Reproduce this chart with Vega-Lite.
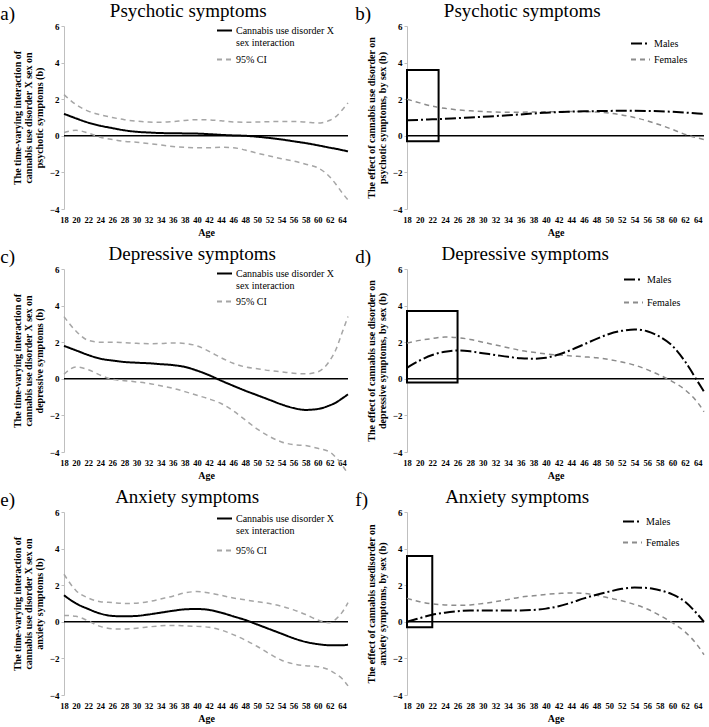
{
  "$schema": "https://vega.github.io/schema/vega-lite/v6.json",
  "padding": {"left": 0, "top": 2, "right": 2, "bottom": 0},
  "background": "white",
  "datasets": {
    "a": [
      {"age":18,"e":1.2,"u":2.25,"l":0.18},{"age":20,"e":0.95,"u":1.7,"l":0.3},{"age":22,"e":0.72,"u":1.35,"l":0.15},{"age":24,"e":0.55,"u":1.15,"l":-0.08},{"age":26,"e":0.42,"u":1.0,"l":-0.2},{"age":28,"e":0.3,"u":0.88,"l":-0.3},{"age":30,"e":0.22,"u":0.8,"l":-0.35},{"age":32,"e":0.18,"u":0.75,"l":-0.42},{"age":34,"e":0.15,"u":0.74,"l":-0.5},{"age":36,"e":0.14,"u":0.78,"l":-0.58},{"age":38,"e":0.13,"u":0.84,"l":-0.63},{"age":40,"e":0.12,"u":0.88,"l":-0.65},{"age":42,"e":0.09,"u":0.87,"l":-0.65},{"age":44,"e":0.05,"u":0.82,"l":-0.63},{"age":46,"e":0.02,"u":0.76,"l":-0.65},{"age":48,"e":0.0,"u":0.74,"l":-0.78},{"age":50,"e":-0.05,"u":0.75,"l":-0.95},{"age":52,"e":-0.12,"u":0.77,"l":-1.1},{"age":54,"e":-0.2,"u":0.78,"l":-1.25},{"age":56,"e":-0.3,"u":0.78,"l":-1.38},{"age":58,"e":-0.4,"u":0.75,"l":-1.55},{"age":60,"e":-0.52,"u":0.7,"l":-1.75},{"age":62,"e":-0.65,"u":0.85,"l":-2.25},{"age":63,"e":-0.71,"u":1.05,"l":-2.65},{"age":64,"e":-0.78,"u":1.4,"l":-3.1},{"age":65,"e":-0.85,"u":1.8,"l":-3.5}
    ],
    "c": [
      {"age":18,"e":1.8,"u":3.4,"l":0.25},{"age":20,"e":1.55,"u":2.6,"l":0.65},{"age":22,"e":1.3,"u":2.1,"l":0.5},{"age":24,"e":1.1,"u":2.0,"l":0.2},{"age":26,"e":1.0,"u":2.0,"l":-0.03},{"age":28,"e":0.92,"u":1.97,"l":-0.1},{"age":30,"e":0.88,"u":1.94,"l":-0.17},{"age":32,"e":0.85,"u":1.92,"l":-0.25},{"age":34,"e":0.8,"u":1.93,"l":-0.38},{"age":36,"e":0.75,"u":1.96,"l":-0.52},{"age":38,"e":0.65,"u":1.93,"l":-0.7},{"age":40,"e":0.45,"u":1.8,"l":-0.9},{"age":42,"e":0.2,"u":1.5,"l":-1.1},{"age":44,"e":-0.1,"u":1.15,"l":-1.35},{"age":46,"e":-0.38,"u":0.85,"l":-1.75},{"age":48,"e":-0.65,"u":0.65,"l":-2.25},{"age":50,"e":-0.9,"u":0.55,"l":-2.75},{"age":52,"e":-1.15,"u":0.45,"l":-3.15},{"age":54,"e":-1.4,"u":0.38,"l":-3.45},{"age":56,"e":-1.6,"u":0.3,"l":-3.6},{"age":58,"e":-1.7,"u":0.27,"l":-3.65},{"age":60,"e":-1.65,"u":0.38,"l":-3.8},{"age":62,"e":-1.45,"u":1.0,"l":-4.0},{"age":63,"e":-1.3,"u":1.6,"l":-4.3},{"age":64,"e":-1.08,"u":2.5,"l":-4.7},{"age":65,"e":-0.85,"u":3.4,"l":-5.2}
    ],
    "e": [
      {"age":18,"e":1.45,"u":2.6,"l":0.35},{"age":20,"e":1.0,"u":1.7,"l":0.3},{"age":22,"e":0.7,"u":1.3,"l":0.05},{"age":24,"e":0.45,"u":1.1,"l":-0.25},{"age":26,"e":0.32,"u":1.05,"l":-0.38},{"age":28,"e":0.3,"u":1.0,"l":-0.4},{"age":30,"e":0.32,"u":1.02,"l":-0.35},{"age":32,"e":0.4,"u":1.1,"l":-0.28},{"age":34,"e":0.5,"u":1.25,"l":-0.22},{"age":36,"e":0.6,"u":1.4,"l":-0.2},{"age":38,"e":0.68,"u":1.58,"l":-0.22},{"age":40,"e":0.7,"u":1.65,"l":-0.25},{"age":42,"e":0.65,"u":1.58,"l":-0.3},{"age":44,"e":0.5,"u":1.45,"l":-0.45},{"age":46,"e":0.3,"u":1.3,"l":-0.7},{"age":48,"e":0.1,"u":1.2,"l":-1.0},{"age":50,"e":-0.15,"u":1.1,"l":-1.35},{"age":52,"e":-0.4,"u":1.0,"l":-1.75},{"age":54,"e":-0.65,"u":0.85,"l":-2.1},{"age":56,"e":-0.9,"u":0.65,"l":-2.3},{"age":58,"e":-1.1,"u":0.4,"l":-2.4},{"age":60,"e":-1.22,"u":0.1,"l":-2.45},{"age":62,"e":-1.28,"u":-0.05,"l":-2.65},{"age":63,"e":-1.28,"u":0.15,"l":-2.85},{"age":64,"e":-1.28,"u":0.5,"l":-3.1},{"age":65,"e":-1.25,"u":1.05,"l":-3.5}
    ],
    "b": [
      {"age":18,"m":0.85,"f":2.0},{"age":20,"m":0.87,"f":1.8},{"age":22,"m":0.9,"f":1.62},{"age":24,"m":0.93,"f":1.5},{"age":26,"m":0.97,"f":1.42},{"age":28,"m":1.0,"f":1.37},{"age":30,"m":1.04,"f":1.33},{"age":32,"m":1.08,"f":1.3},{"age":34,"m":1.12,"f":1.29},{"age":36,"m":1.17,"f":1.29},{"age":38,"m":1.22,"f":1.3},{"age":40,"m":1.26,"f":1.31},{"age":42,"m":1.3,"f":1.32},{"age":44,"m":1.32,"f":1.33},{"age":46,"m":1.34,"f":1.33},{"age":48,"m":1.35,"f":1.3},{"age":50,"m":1.36,"f":1.24},{"age":52,"m":1.37,"f":1.14},{"age":54,"m":1.37,"f":1.0},{"age":56,"m":1.36,"f":0.82},{"age":58,"m":1.34,"f":0.6},{"age":60,"m":1.31,"f":0.35},{"age":62,"m":1.27,"f":0.08},{"age":64,"m":1.22,"f":-0.12},{"age":65,"m":1.19,"f":-0.2}
    ],
    "d": [
      {"age":18,"m":0.6,"f":1.95},{"age":20,"m":1.0,"f":2.1},{"age":22,"m":1.3,"f":2.2},{"age":24,"m":1.48,"f":2.28},{"age":26,"m":1.55,"f":2.25},{"age":28,"m":1.5,"f":2.15},{"age":30,"m":1.4,"f":2.0},{"age":32,"m":1.3,"f":1.85},{"age":34,"m":1.2,"f":1.7},{"age":36,"m":1.12,"f":1.55},{"age":38,"m":1.1,"f":1.45},{"age":40,"m":1.15,"f":1.36},{"age":42,"m":1.33,"f":1.3},{"age":44,"m":1.58,"f":1.25},{"age":46,"m":1.88,"f":1.2},{"age":48,"m":2.18,"f":1.15},{"age":50,"m":2.45,"f":1.05},{"age":52,"m":2.62,"f":0.92},{"age":54,"m":2.7,"f":0.75},{"age":56,"m":2.6,"f":0.5},{"age":58,"m":2.3,"f":0.2},{"age":60,"m":1.8,"f":-0.15},{"age":62,"m":0.95,"f":-0.6},{"age":64,"m":-0.15,"f":-1.3},{"age":65,"m":-0.7,"f":-1.8}
    ],
    "f": [
      {"age":18,"m":0.0,"f":1.28},{"age":20,"m":0.2,"f":1.1},{"age":22,"m":0.38,"f":0.98},{"age":24,"m":0.5,"f":0.92},{"age":26,"m":0.58,"f":0.9},{"age":28,"m":0.62,"f":0.92},{"age":30,"m":0.62,"f":1.0},{"age":32,"m":0.62,"f":1.1},{"age":34,"m":0.62,"f":1.22},{"age":36,"m":0.62,"f":1.35},{"age":38,"m":0.65,"f":1.42},{"age":40,"m":0.72,"f":1.5},{"age":42,"m":0.85,"f":1.55},{"age":44,"m":1.05,"f":1.58},{"age":46,"m":1.28,"f":1.55},{"age":48,"m":1.48,"f":1.45},{"age":50,"m":1.65,"f":1.3},{"age":52,"m":1.8,"f":1.15},{"age":54,"m":1.87,"f":0.95},{"age":56,"m":1.85,"f":0.7},{"age":58,"m":1.72,"f":0.35},{"age":60,"m":1.5,"f":-0.05},{"age":62,"m":1.1,"f":-0.55},{"age":64,"m":0.4,"f":-1.3},{"age":65,"m":0.0,"f":-1.8}
    ],
    "boxes": [
      {"panel":"b","age":18,"age2":23,"y":-0.3,"y2":3.6},
      {"panel":"d","age":18,"age2":26,"y":-0.2,"y2":3.7},
      {"panel":"f","age":18,"age2":22,"y":-0.3,"y2":3.6}
    ]
  },
  "config": {
    "view": {"stroke": null},
    "font": "Liberation Serif, Times New Roman, DejaVu Serif, serif",
    "title": {"font": "Liberation Serif, Times New Roman, DejaVu Serif, serif", "fontSize": 19, "fontWeight": "normal", "color": "black", "anchor": "middle", "frame": "bounds", "offset": 1},
    "axis": {"labelFont": "Liberation Serif, Times New Roman, DejaVu Serif, serif", "labelFontWeight": "bold", "labelFontSize": 9, "labelColor": "black", "titleFont": "Liberation Serif, Times New Roman, DejaVu Serif, serif", "titleFontWeight": "bold", "titleFontSize": 10, "titleLineHeight": 11, "titleColor": "black", "grid": false, "domainColor": "#bfbfbf", "tickColor": "#bfbfbf", "labelOverlap": false, "labelFlush": false, "tickCount": 100, "format": "d"},
    "legend": {"labelFont": "Liberation Serif, Times New Roman, DejaVu Serif, serif", "labelFontSize": 10, "labelColor": "black", "symbolType": "stroke", "symbolSize": 225, "symbolStrokeWidth": 2, "labelOffset": 3, "title": null, "padding": 0, "orient": "none"},
    "line": {"interpolate": "monotone", "clip": true}
  },
  "resolve": {"scale": {"color": "independent", "strokeDash": "independent"}},
  "spacing": 7,
  "vconcat": [
    {
      "resolve": {"scale": {"color": "independent", "strokeDash": "independent"}},
      "spacing": 3,
      "hconcat": [
        {
          "title": {"text": "a)", "anchor": "start", "dy": 23, "dx": -12},
          "resolve": {"scale": {"color": "independent", "strokeDash": "independent"}},
          "vconcat": [{
            "title": {"text": "Psychotic symptoms", "dx": 6},
            "width": 284, "height": 183,
            "layer": [
              {"data": {"values": [{}]}, "mark": {"type": "rule", "color": "black", "strokeWidth": 1.5}, "encoding": {"y": {"datum": 0, "type": "quantitative", "scale": {"domain": [-4, 6], "nice": false, "zero": false}}}},
              {"data": {"name": "a"}, "mark": {"type": "line", "strokeWidth": 1.5},
               "encoding": {
                 "x": {"field": "age", "type": "quantitative", "scale": {"domain": [18, 65], "nice": false, "zero": false}, "axis": {"values": [18,20,22,24,26,28,30,32,34,36,38,40,42,44,46,48,50,52,54,56,58,60,62,64], "tickCount": 100, "format": "d", "domain": false, "ticks": false, "labelOverlap": false, "labelFlush": false, "labelFontSize": 8.5, "labelPadding": 6, "title": "Age", "titlePadding": 4}},
                 "y": {"field": "u", "type": "quantitative", "scale": {"domain": [-4, 6], "nice": false, "zero": false}, "axis": {"values": [-4,-2,0,2,4,6], "tickCount": 100, "format": "d", "labelOverlap": false, "labelFlush": false, "tickSize": 3, "labelPadding": 2, "titlePadding": 5, "title": ["The time-varying interaction of", "cannabis use disorder X sex on", "psychotic symptoms (b)"]}},
                 "color": {"datum": "95% CI", "type": "nominal", "scale": {"domain": ["Cannabis use disorder X sex interaction", "95% CI"], "range": ["black", "#a6a6a6"]}, "legend": {"orient": "none", "legendX": 152, "legendY": -4, "rowPadding": 3, "labelExpr": "datum.label == '95% CI' ? datum.label : ['Cannabis use disorder X', 'sex interaction']"}},
                 "strokeDash": {"datum": "95% CI", "type": "nominal", "scale": {"domain": ["Cannabis use disorder X sex interaction", "95% CI"], "range": [[1, 0], [5, 4]]}}
               }},
              {"data": {"name": "a"}, "mark": {"type": "line", "strokeWidth": 1.5},
               "encoding": {"x": {"field": "age", "type": "quantitative"}, "y": {"field": "l", "type": "quantitative"}, "color": {"datum": "95% CI", "type": "nominal"}, "strokeDash": {"datum": "95% CI", "type": "nominal"}}},
              {"data": {"name": "a"}, "mark": {"type": "line", "strokeWidth": 2},
               "encoding": {"x": {"field": "age", "type": "quantitative"}, "y": {"field": "e", "type": "quantitative"}, "color": {"datum": "Cannabis use disorder X sex interaction", "type": "nominal"}, "strokeDash": {"datum": "Cannabis use disorder X sex interaction", "type": "nominal"}}}
            ]
          }]
        },
        {
          "title": {"text": "b)", "anchor": "start", "dy": 23, "dx": -11},
          "resolve": {"scale": {"color": "independent", "strokeDash": "independent"}},
          "vconcat": [{
            "title": {"text": "Psychotic symptoms", "dx": -15},
            "width": 297, "height": 183,
            "layer": [
              {"data": {"values": [{}]}, "mark": {"type": "rule", "color": "black", "strokeWidth": 1.5}, "encoding": {"y": {"datum": 0, "type": "quantitative", "scale": {"domain": [-4, 6], "nice": false, "zero": false}}}},
              {"data": {"name": "boxes"}, "transform": [{"filter": "datum.panel == 'b'"}], "mark": {"type": "rect", "fillOpacity": 0, "stroke": "black", "strokeWidth": 2},
               "encoding": {"x": {"field": "age", "type": "quantitative"}, "x2": {"field": "age2"}, "y": {"field": "y", "type": "quantitative"}, "y2": {"field": "y2"}}},
              {"data": {"name": "b"}, "mark": {"type": "line", "strokeWidth": 1.5},
               "encoding": {
                 "x": {"field": "age", "type": "quantitative", "scale": {"domain": [18, 65], "nice": false, "zero": false}, "axis": {"values": [18,20,22,24,26,28,30,32,34,36,38,40,42,44,46,48,50,52,54,56,58,60,62,64], "tickCount": 100, "format": "d", "domain": false, "ticks": false, "labelOverlap": false, "labelFlush": false, "labelFontSize": 8.5, "labelPadding": 6, "title": "Age", "titlePadding": 4}},
                 "y": {"field": "f", "type": "quantitative", "scale": {"domain": [-4, 6], "nice": false, "zero": false}, "axis": {"values": [-4,-2,0,2,4,6], "tickCount": 100, "format": "d", "labelOverlap": false, "labelFlush": false, "tickSize": 3, "labelPadding": 2, "titlePadding": 5, "title": ["The effect of cannabis use disorder on", "psychotic symptoms, by sex (b)"]}},
                 "color": {"datum": "Females", "type": "nominal", "scale": {"domain": ["Males", "Females"], "range": ["black", "#8c8c8c"]}, "legend": {"orient": "none", "legendX": 223, "legendY": 7, "rowPadding": 0, "symbolSize": 361}},
                 "strokeDash": {"datum": "Females", "type": "nominal", "scale": {"domain": ["Males", "Females"], "range": [[11, 3, 2, 3], [5, 4]]}}
               }},
              {"data": {"name": "b"}, "mark": {"type": "line", "strokeWidth": 2},
               "encoding": {"x": {"field": "age", "type": "quantitative"}, "y": {"field": "m", "type": "quantitative"}, "color": {"datum": "Males", "type": "nominal"}, "strokeDash": {"datum": "Males", "type": "nominal"}}}
            ]
          }]
        }
      ]
    },
    {
      "resolve": {"scale": {"color": "independent", "strokeDash": "independent"}},
      "spacing": 3,
      "hconcat": [
        {
          "title": {"text": "c)", "anchor": "start", "dy": 23, "dx": -12},
          "resolve": {"scale": {"color": "independent", "strokeDash": "independent"}},
          "vconcat": [{
            "title": {"text": "Depressive symptoms", "dx": 10},
            "width": 284, "height": 183,
            "layer": [
              {"data": {"values": [{}]}, "mark": {"type": "rule", "color": "black", "strokeWidth": 1.5}, "encoding": {"y": {"datum": 0, "type": "quantitative", "scale": {"domain": [-4, 6], "nice": false, "zero": false}}}},
              {"data": {"name": "c"}, "mark": {"type": "line", "strokeWidth": 1.5},
               "encoding": {
                 "x": {"field": "age", "type": "quantitative", "scale": {"domain": [18, 65], "nice": false, "zero": false}, "axis": {"values": [18,20,22,24,26,28,30,32,34,36,38,40,42,44,46,48,50,52,54,56,58,60,62,64], "tickCount": 100, "format": "d", "domain": false, "ticks": false, "labelOverlap": false, "labelFlush": false, "labelFontSize": 8.5, "labelPadding": 6, "title": "Age", "titlePadding": 4}},
                 "y": {"field": "u", "type": "quantitative", "scale": {"domain": [-4, 6], "nice": false, "zero": false}, "axis": {"values": [-4,-2,0,2,4,6], "tickCount": 100, "format": "d", "labelOverlap": false, "labelFlush": false, "tickSize": 3, "labelPadding": 2, "titlePadding": 5, "title": ["The time-varying interaction of", "cannabis use disorder X sex on", "depressive symptoms (b)"]}},
                 "color": {"datum": "95% CI", "type": "nominal", "scale": {"domain": ["Cannabis use disorder X sex interaction", "95% CI"], "range": ["black", "#a6a6a6"]}, "legend": {"orient": "none", "legendX": 152, "legendY": -4, "rowPadding": 2, "labelExpr": "datum.label == '95% CI' ? datum.label : ['Cannabis use disorder X', 'sex interaction']"}},
                 "strokeDash": {"datum": "95% CI", "type": "nominal", "scale": {"domain": ["Cannabis use disorder X sex interaction", "95% CI"], "range": [[1, 0], [5, 4]]}}
               }},
              {"data": {"name": "c"}, "mark": {"type": "line", "strokeWidth": 1.5},
               "encoding": {"x": {"field": "age", "type": "quantitative"}, "y": {"field": "l", "type": "quantitative"}, "color": {"datum": "95% CI", "type": "nominal"}, "strokeDash": {"datum": "95% CI", "type": "nominal"}}},
              {"data": {"name": "c"}, "mark": {"type": "line", "strokeWidth": 2},
               "encoding": {"x": {"field": "age", "type": "quantitative"}, "y": {"field": "e", "type": "quantitative"}, "color": {"datum": "Cannabis use disorder X sex interaction", "type": "nominal"}, "strokeDash": {"datum": "Cannabis use disorder X sex interaction", "type": "nominal"}}}
            ]
          }]
        },
        {
          "title": {"text": "d)", "anchor": "start", "dy": 23, "dx": -11},
          "resolve": {"scale": {"color": "independent", "strokeDash": "independent"}},
          "vconcat": [{
            "title": {"text": "Depressive symptoms", "dx": -12},
            "width": 297, "height": 183,
            "layer": [
              {"data": {"values": [{}]}, "mark": {"type": "rule", "color": "black", "strokeWidth": 1.5}, "encoding": {"y": {"datum": 0, "type": "quantitative", "scale": {"domain": [-4, 6], "nice": false, "zero": false}}}},
              {"data": {"name": "boxes"}, "transform": [{"filter": "datum.panel == 'd'"}], "mark": {"type": "rect", "fillOpacity": 0, "stroke": "black", "strokeWidth": 2},
               "encoding": {"x": {"field": "age", "type": "quantitative"}, "x2": {"field": "age2"}, "y": {"field": "y", "type": "quantitative"}, "y2": {"field": "y2"}}},
              {"data": {"name": "d"}, "mark": {"type": "line", "strokeWidth": 1.5},
               "encoding": {
                 "x": {"field": "age", "type": "quantitative", "scale": {"domain": [18, 65], "nice": false, "zero": false}, "axis": {"values": [18,20,22,24,26,28,30,32,34,36,38,40,42,44,46,48,50,52,54,56,58,60,62,64], "tickCount": 100, "format": "d", "domain": false, "ticks": false, "labelOverlap": false, "labelFlush": false, "labelFontSize": 8.5, "labelPadding": 6, "title": "Age", "titlePadding": 4}},
                 "y": {"field": "f", "type": "quantitative", "scale": {"domain": [-4, 6], "nice": false, "zero": false}, "axis": {"values": [-4,-2,0,2,4,6], "tickCount": 100, "format": "d", "labelOverlap": false, "labelFlush": false, "tickSize": 3, "labelPadding": 2, "titlePadding": 5, "title": ["The effect of cannabis use disorder on", "depressive symptoms, by sex (b)"]}},
                 "color": {"datum": "Females", "type": "nominal", "scale": {"domain": ["Males", "Females"], "range": ["black", "#8c8c8c"]}, "legend": {"orient": "none", "legendX": 216, "legendY": 0, "rowPadding": 7, "symbolSize": 361}},
                 "strokeDash": {"datum": "Females", "type": "nominal", "scale": {"domain": ["Males", "Females"], "range": [[11, 3, 2, 3], [5, 4]]}}
               }},
              {"data": {"name": "d"}, "mark": {"type": "line", "strokeWidth": 2},
               "encoding": {"x": {"field": "age", "type": "quantitative"}, "y": {"field": "m", "type": "quantitative"}, "color": {"datum": "Males", "type": "nominal"}, "strokeDash": {"datum": "Males", "type": "nominal"}}}
            ]
          }]
        }
      ]
    },
    {
      "resolve": {"scale": {"color": "independent", "strokeDash": "independent"}},
      "spacing": 3,
      "hconcat": [
        {
          "title": {"text": "e)", "anchor": "start", "dy": 23, "dx": -12},
          "resolve": {"scale": {"color": "independent", "strokeDash": "independent"}},
          "vconcat": [{
            "title": {"text": "Anxiety symptoms", "dx": 5},
            "width": 284, "height": 183,
            "layer": [
              {"data": {"values": [{}]}, "mark": {"type": "rule", "color": "black", "strokeWidth": 1.5}, "encoding": {"y": {"datum": 0, "type": "quantitative", "scale": {"domain": [-4, 6], "nice": false, "zero": false}}}},
              {"data": {"name": "e"}, "mark": {"type": "line", "strokeWidth": 1.5},
               "encoding": {
                 "x": {"field": "age", "type": "quantitative", "scale": {"domain": [18, 65], "nice": false, "zero": false}, "axis": {"values": [18,20,22,24,26,28,30,32,34,36,38,40,42,44,46,48,50,52,54,56,58,60,62,64], "tickCount": 100, "format": "d", "domain": false, "ticks": false, "labelOverlap": false, "labelFlush": false, "labelFontSize": 8.5, "labelPadding": 6, "title": "Age", "titlePadding": 4}},
                 "y": {"field": "u", "type": "quantitative", "scale": {"domain": [-4, 6], "nice": false, "zero": false}, "axis": {"values": [-4,-2,0,2,4,6], "tickCount": 100, "format": "d", "labelOverlap": false, "labelFlush": false, "tickSize": 3, "labelPadding": 2, "titlePadding": 5, "title": ["The time-varying interaction of", "cannabis use disorder X sex on", "anxiety symptoms (b)"]}},
                 "color": {"datum": "95% CI", "type": "nominal", "scale": {"domain": ["Cannabis use disorder X sex interaction", "95% CI"], "range": ["black", "#a6a6a6"]}, "legend": {"orient": "none", "legendX": 152, "legendY": -2, "rowPadding": 6, "labelExpr": "datum.label == '95% CI' ? datum.label : ['Cannabis use disorder X', 'sex interaction']"}},
                 "strokeDash": {"datum": "95% CI", "type": "nominal", "scale": {"domain": ["Cannabis use disorder X sex interaction", "95% CI"], "range": [[1, 0], [5, 4]]}}
               }},
              {"data": {"name": "e"}, "mark": {"type": "line", "strokeWidth": 1.5},
               "encoding": {"x": {"field": "age", "type": "quantitative"}, "y": {"field": "l", "type": "quantitative"}, "color": {"datum": "95% CI", "type": "nominal"}, "strokeDash": {"datum": "95% CI", "type": "nominal"}}},
              {"data": {"name": "e"}, "mark": {"type": "line", "strokeWidth": 2},
               "encoding": {"x": {"field": "age", "type": "quantitative"}, "y": {"field": "e", "type": "quantitative"}, "color": {"datum": "Cannabis use disorder X sex interaction", "type": "nominal"}, "strokeDash": {"datum": "Cannabis use disorder X sex interaction", "type": "nominal"}}}
            ]
          }]
        },
        {
          "title": {"text": "f)", "anchor": "start", "dy": 23, "dx": -11},
          "resolve": {"scale": {"color": "independent", "strokeDash": "independent"}},
          "vconcat": [{
            "title": {"text": "Anxiety symptoms", "dx": -20},
            "width": 297, "height": 183,
            "layer": [
              {"data": {"values": [{}]}, "mark": {"type": "rule", "color": "black", "strokeWidth": 1.5}, "encoding": {"y": {"datum": 0, "type": "quantitative", "scale": {"domain": [-4, 6], "nice": false, "zero": false}}}},
              {"data": {"name": "boxes"}, "transform": [{"filter": "datum.panel == 'f'"}], "mark": {"type": "rect", "fillOpacity": 0, "stroke": "black", "strokeWidth": 2},
               "encoding": {"x": {"field": "age", "type": "quantitative"}, "x2": {"field": "age2"}, "y": {"field": "y", "type": "quantitative"}, "y2": {"field": "y2"}}},
              {"data": {"name": "f"}, "mark": {"type": "line", "strokeWidth": 1.5},
               "encoding": {
                 "x": {"field": "age", "type": "quantitative", "scale": {"domain": [18, 65], "nice": false, "zero": false}, "axis": {"values": [18,20,22,24,26,28,30,32,34,36,38,40,42,44,46,48,50,52,54,56,58,60,62,64], "tickCount": 100, "format": "d", "domain": false, "ticks": false, "labelOverlap": false, "labelFlush": false, "labelFontSize": 8.5, "labelPadding": 6, "title": "Age", "titlePadding": 4}},
                 "y": {"field": "f", "type": "quantitative", "scale": {"domain": [-4, 6], "nice": false, "zero": false}, "axis": {"values": [-4,-2,0,2,4,6], "tickCount": 100, "format": "d", "labelOverlap": false, "labelFlush": false, "tickSize": 3, "labelPadding": 2, "titlePadding": 5, "title": ["The effect of cannabis usedisorder on", "anxiety symptoms, by sex (b)"]}},
                 "color": {"datum": "Females", "type": "nominal", "scale": {"domain": ["Males", "Females"], "range": ["black", "#8c8c8c"]}, "legend": {"orient": "none", "legendX": 215, "legendY": -1, "rowPadding": 5, "symbolSize": 361}},
                 "strokeDash": {"datum": "Females", "type": "nominal", "scale": {"domain": ["Males", "Females"], "range": [[11, 3, 2, 3], [5, 4]]}}
               }},
              {"data": {"name": "f"}, "mark": {"type": "line", "strokeWidth": 2},
               "encoding": {"x": {"field": "age", "type": "quantitative"}, "y": {"field": "m", "type": "quantitative"}, "color": {"datum": "Males", "type": "nominal"}, "strokeDash": {"datum": "Males", "type": "nominal"}}}
            ]
          }]
        }
      ]
    }
  ]
}
